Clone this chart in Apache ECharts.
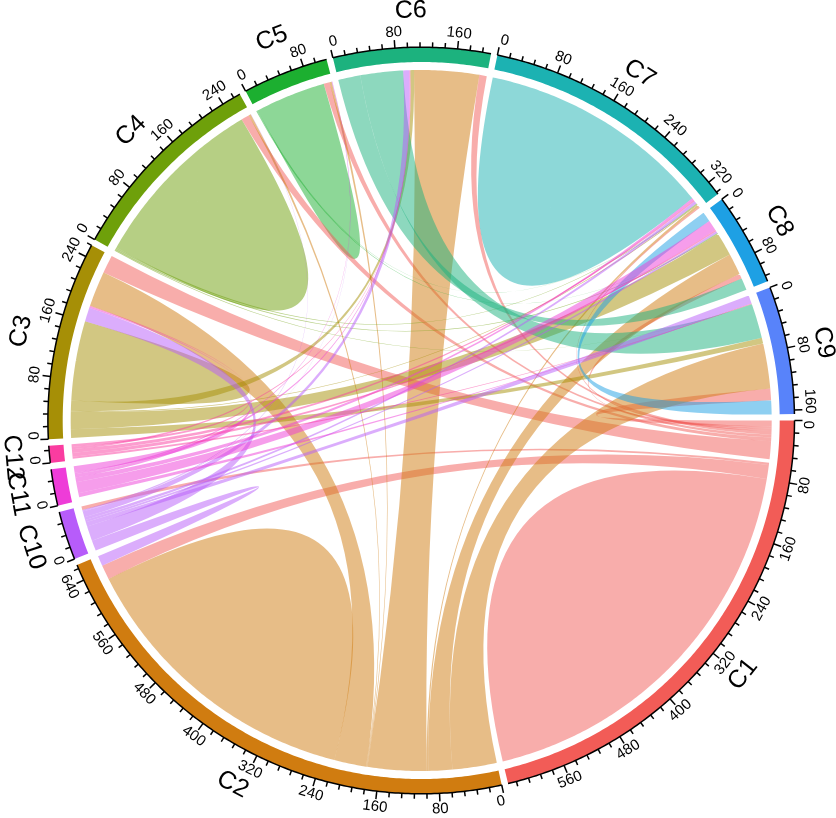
<!DOCTYPE html>
<html><head><meta charset="utf-8">
<style>html,body{margin:0;padding:0;background:#fff}#c{width:836px;height:818px}</style>
<script src="https://cdn.jsdelivr.net/npm/echarts@6/dist/echarts.min.js"></script>
</head><body><div id="c"></div>
<script>
const sectorNames=['C1','C2','C10','C11','C12','C3','C4','C5','C6','C7','C8','C9'];
const sectorSizes=[635,661,63,47,22,256,265,111,203,339,120,165];
const colorBySector={C1:'#F25C57',C2:'#D07C10',C10:'#B75CFA',C11:'#EE3CD8',C12:'#FA3CA0',C3:'#A68F06',C4:'#6EA00A',C5:'#1CAF30',C6:'#1CB27E',C7:'#1CB2B2',C8:'#1EA0E4',C9:'#5883FA'};
const selfLinks=[['C1',275],['C2',203],['C3',55],['C4',123],['C5',48],['C7',162]];
const linksC1=[['C1','C9',8,16],['C1','C8',3,7],['C1','C7',3,2],['C1','C6',5,10],['C1','C5',4,8],['C1','C4',5,11],['C1','C3',24,25],['C1','C12',2,1],['C1','C11',3,1],['C1','C10',3,5],['C1','C2',19,20]];
const linksC2=[['C2','C9',61,61],['C2','C8',33,30],['C2','C7',2,3],['C2','C6',81,88],['C2','C5',1,3],['C2','C4',1,3],['C2','C3',44,49]];
const linksC3=[['C3','C9',12,8],['C3','C8',24,33],['C3','C7',1,1],['C3','C6',14,5]];
const linksC4=[['C4','C7',2,1],['C4','C8',2,1],['C4','C9',1,0.5]];
const linksC5=[['C5','C8',1,0.5],['C5','C7',1,0.5]];
const linksC6=[['C6','C8',30,17],['C6','C9',58,47]];
const linksC8=[['C8','C9',14,19]];
const linksC10=[['C10','C2',14,14],['C10','C3',20,19],['C10','C4',1,0.5],['C10','C5',1,0.5],['C10','C6',8,8],['C10','C7',4,4],['C10','C8',3,3],['C10','C9',6,11]];
const linksC11=[['C11','C1',4,0.5],['C11','C3',8,2],['C11','C5',2,0.5],['C11','C6',4,1],['C11','C7',6,3],['C11','C8',14,15],['C11','C9',5,0.5]];
const linksC12=[['C12','C1',2,0.5],['C12','C3',4,1],['C12','C6',3,0.5],['C12','C7',5,2],['C12','C8',5,2],['C12','C9',3,0.5]];
const endOrder={
 C1:['C9','C8','C7','C6','C5','C4','C3','C12','C11','C10','C2','self'],
 C2:['C9','C8','C7','C6','C5','C4','C3','self','C1','C10'],
 C3:['C9','C8','C7','C6','self','C10','C11','C12','C2','C1'],
 C4:['C9','C8','C7','self','C1','C2','C10'],
 C5:['C8','C7','self','C1','C2','C10','C11'],
 C6:['C8','C9','C10','C11','C12','C3','C2','C1'],
 C7:['self','C11','C12','C10','C5','C4','C3','C2','C1'],
 C8:['C9','C11','C12','C10','C5','C4','C3','C2','C1','C6'],
 C9:['C10','C11','C12','C4','C6','C3','C2','C1','C8'],
 C10:['C2','C3','C9','C8','C7','C6','C5','C4','C1'],
 C11:['C1','C9','C8','C7','C6','C5','C3'],
 C12:['C1','C9','C8','C7','C6','C3']
};
const tickStep=16, labelStep=80, gapDeg=1;
const R_LINK=350.5,R_IN=358.5,R_OUT=373.3,R_MINOR=5,R_MAJOR=8,R_TICKTXT=389,R_NAME=410;
const TICK_FONT=15,NAME_FONT=25;

const allLinks=[].concat(selfLinks.map(s=>[s[0],s[0],s[1],s[1]]),linksC1,linksC2,linksC3,linksC4,linksC5,linksC6,linksC8,linksC10,linksC11,linksC12);
const total=sectorSizes.reduce((a,b)=>a+b,0);
const k=(360-gapDeg*sectorNames.length)/total;
const sectors=[];let cur=0;
sectorNames.forEach((n,i)=>{const span=sectorSizes[i]*k;sectors.push({name:n,size:sectorSizes[i],a0:cur,a1:cur+span,color:colorBySector[n]});cur+=span+gapDeg;});
const ends={};
sectors.forEach(s=>{
  const items=[];
  endOrder[s.name].forEach(p=>{
    if(p==='self'){const l=allLinks.find(x=>x[0]===s.name&&x[1]===s.name);items.push([l,'from'],[l,'to']);}
    else{
      const out=allLinks.find(x=>x[0]===s.name&&x[1]===p);
      const inc=allLinks.find(x=>x[0]===p&&x[1]===s.name);
      if(out)items.push([out,'from']);else if(inc)items.push([inc,'to']);
    }
  });
  const sum=items.reduce((t,it)=>t+(it[1]==='from'?it[0][2]:it[0][3]),0);
  let a=s.a0;const f=(s.a1-s.a0)/sum;
  items.forEach(it=>{const w=(it[1]==='from'?it[0][2]:it[0][3])*f;ends[allLinks.indexOf(it[0])+it[1]]=[a,a+w];a+=w;});
});

function arcPts(api,r,a,b){const n=Math.max(2,Math.ceil(Math.abs(b-a)/0.5)+1);const o=[];for(let i=0;i<n;i++){o.push(api.coord([r,a+(b-a)*i/(n-1)]));}return o;}
function toLine(pts,first){return pts.map((p,i)=>(i===0&&first?'M':'L')+p[0].toFixed(2)+' '+p[1].toFixed(2)).join(' ');}
function hex2(c,al){const v=parseInt(c.slice(1),16);return 'rgba('+(v>>16)+','+((v>>8)&255)+','+(v&255)+','+al+')';}

function renderLink(params,api){
  const i=api.value(2),l=allLinks[i],A=ends[i+'from'],B=ends[i+'to'];
  if(!A||!B)return null;
  const c=api.coord([0,0]);
  const arcA=arcPts(api,R_LINK,A[0],A[1]),arcB=arcPts(api,R_LINK,B[0],B[1]);
  const pb=arcB[0],pa=arcA[0];
  const d=toLine(arcA,true)+' Q'+c[0]+' '+c[1]+' '+pb[0]+' '+pb[1]+' '+toLine(arcB,false)+' Q'+c[0]+' '+c[1]+' '+pa[0]+' '+pa[1]+' Z';
  return {type:'path',shape:{pathData:d},style:{fill:hex2(colorBySector[l[0]],0.5),stroke:null}};
}
function renderRing(params,api){
  const s=sectors[api.value(2)];
  const o=arcPts(api,R_OUT,s.a0,s.a1),n=arcPts(api,R_IN,s.a1,s.a0);
  return {type:'path',shape:{pathData:toLine(o,true)+' '+toLine(n,false)+' Z'},style:{fill:s.color,stroke:null}};
}
function rot(a){const m=((a%360)+360)%360;const deg=m>=180?m+90:m-90;return -deg*Math.PI/180;}
function renderAxis(params,api){
  const s=sectors[api.value(2)];const kids=[];
  kids.push({type:'path',shape:{pathData:toLine(arcPts(api,R_OUT,s.a0,s.a1),true)},style:{stroke:'#000',lineWidth:1.5,fill:null}});
  for(let v=0;v<=s.size;v+=tickStep){
    const a=s.a0+v*k,major=v%labelStep===0;
    const p=api.coord([R_OUT,a]),q=api.coord([R_OUT+(major?R_MAJOR:R_MINOR),a]);
    kids.push({type:'line',shape:{x1:p[0],y1:p[1],x2:q[0],y2:q[1]},style:{stroke:'#000',lineWidth:1.5}});
    if(major){
      const txt=String(v);
      const half=(txt.length*0.556*TICK_FONT/2)/R_TICKTXT*180/Math.PI;
      const al=Math.min(Math.max(a,s.a0+half),s.a1-half);
      const t=api.coord([R_TICKTXT,al]);
      kids.push({type:'text',x:t[0],y:t[1],rotation:rot(al),style:{text:txt,fontSize:TICK_FONT,fontFamily:'Liberation Sans',fill:'#000',align:'center',verticalAlign:'middle'}});
    }
  }
  const am=(s.a0+s.a1)/2,t=api.coord([R_NAME,am]);
  kids.push({type:'text',x:t[0],y:t[1],rotation:rot(am),style:{text:s.name,fontSize:NAME_FONT,fontFamily:'Liberation Sans',fill:'#000',align:'center',verticalAlign:'middle'}});
  return {type:'group',children:kids};
}
const idx=a=>a.map((_,i)=>[0,0,i]);
const common={type:'custom',coordinateSystem:'polar',encode:{radius:0,angle:1},clip:false,silent:true,animation:false};
const chart=echarts.init(document.getElementById('c'),null,{renderer:'canvas'});
chart.setOption({
  animation:false,backgroundColor:'#fff',
  polar:{center:[421.2,420.5],radius:R_OUT},
  angleAxis:{type:'value',min:0,max:360,startAngle:0,clockwise:true,show:false},
  radiusAxis:{type:'value',min:0,max:R_OUT,show:false},
  series:[
    Object.assign({},common,{name:'links',data:idx(allLinks),renderItem:renderLink}),
    Object.assign({},common,{name:'sectors',data:idx(sectors),renderItem:renderRing}),
    Object.assign({},common,{name:'axes',data:idx(sectors),renderItem:renderAxis})
  ]
});
</script></body></html>
